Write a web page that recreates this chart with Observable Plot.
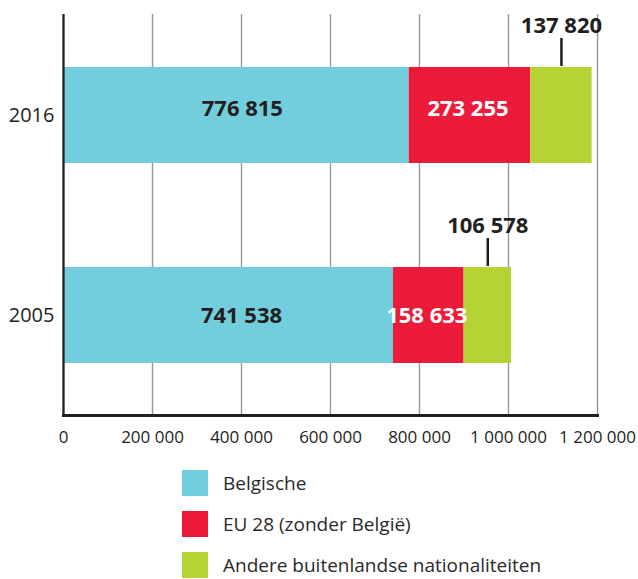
<!DOCTYPE html>
<html>
<head>
<meta charset="utf-8">
<script src="https://cdn.jsdelivr.net/npm/d3@7"></script>
<script src="https://cdn.jsdelivr.net/npm/@observablehq/plot@0.6"></script>
<style>
  body { margin: 0; background: #fff; font-family: "Open Sans", sans-serif; color: #231F20; }
  #legend { margin-top: 10px; padding-left: 182px; }
  .row { display: flex; align-items: center; height: 26px; margin-bottom: 15px; }
  .sw { width: 26px; height: 26px; margin-right: 15px; }
  .lab { font-size: 19px; color: #2a2a2a; }
</style>
</head>
<body>
<div id="chart"></div>
<div id="legend"></div>
<script>
const years = ["2016", "2005"];
const categories = ["Belgische", "EU 28 (zonder België)", "Andere buitenlandse nationaliteiten"];
const belgische = [776815, 741538];
const eu28 = [273255, 158633];
const andere = [137820, 106578];
const colors = ["#72CDDD", "#ED1B3A", "#B5D334"];
const xTicks = [0, 200000, 400000, 600000, 800000, 1000000, 1200000];

const fmt = d3.formatLocale({decimal: ",", thousands: " ", grouping: [3], currency: ["", ""]}).format(",d");
const series = [belgische, eu28, andere];
const rows = [];
years.forEach((yr, i) => {
  let acc = 0;
  series.forEach((s, j) => {
    rows.push({year: yr, category: categories[j], x1: acc, x2: acc + s[i], mid: acc + s[i] / 2, value: s[i], label: fmt(s[i])});
    acc += s[i];
  });
});
const pick = (yr, cat) => rows.filter(d => d.year === yr && d.category === cat);

const chart = Plot.plot({
  width: 638,
  height: 460,
  marginTop: 14,
  marginBottom: 45,
  marginLeft: 63,
  marginRight: 41,
  style: {fontFamily: "Open Sans", color: "#231F20", background: "#fff"},
  x: {domain: [0, 1200000]},
  y: {domain: years, paddingInner: 0.522, paddingOuter: 0.259},
  color: {domain: categories, range: colors},
  marks: [
    Plot.gridX(xTicks.slice(1), {stroke: "#999", strokeOpacity: 1, strokeWidth: 1.4}),
    Plot.barX(rows, {x1: "x1", x2: "x2", y: "year", fill: "category"}),
    Plot.ruleX([0], {stroke: "#231F20", strokeWidth: 2.3}),
    Plot.frame({anchor: "bottom", stroke: "#231F20", strokeWidth: 3}),
    Plot.axisX({ticks: xTicks, tickSize: 0, tickPadding: 15, tickFormat: fmt, fontSize: 17, label: null}),
    Plot.axisY({tickSize: 0, tickPadding: 9, fontSize: 20, label: null}),
    // inside labels
    Plot.text(pick("2016", categories[0]), {x: "mid", y: "year", text: "label", dx: 6, dy: -7, fontSize: 22, fontWeight: "bold", fill: "#231F20"}),
    Plot.text(pick("2005", categories[0]), {x: "mid", y: "year", text: "label", dx: 13, dy: 0, fontSize: 22, fontWeight: "bold", fill: "#231F20"}),
    Plot.text(pick("2016", categories[1]), {x: "mid", y: "year", text: "label", dx: -2, dy: -7, fontSize: 22, fontWeight: "bold", fill: "#fff"}),
    Plot.text(pick("2005", categories[1]), {x: "mid", y: "year", text: "label", dx: -2, dy: 0, fontSize: 22, fontWeight: "bold", fill: "#fff"}),
    // outside labels with leader ticks
    Plot.tickX(rows.filter(d => d.category === categories[2]), {x: "mid", y: "year", stroke: "#231F20", strokeWidth: 2.5, insetTop: -29, insetBottom: 97}),
    Plot.text(rows.filter(d => d.category === categories[2]), {x: "mid", y: "year", text: "label", dy: -90, fontSize: 22, fontWeight: "bold", fill: "#231F20"})
  ]
});
document.getElementById("chart").appendChild(chart);

const legend = document.getElementById("legend");
categories.forEach((c, i) => {
  const row = document.createElement("div");
  row.className = "row";
  const sw = document.createElement("div");
  sw.className = "sw";
  sw.style.background = colors[i];
  const lab = document.createElement("span");
  lab.className = "lab";
  lab.textContent = c;
  row.appendChild(sw);
  row.appendChild(lab);
  legend.appendChild(row);
});
</script>
</body>
</html>
